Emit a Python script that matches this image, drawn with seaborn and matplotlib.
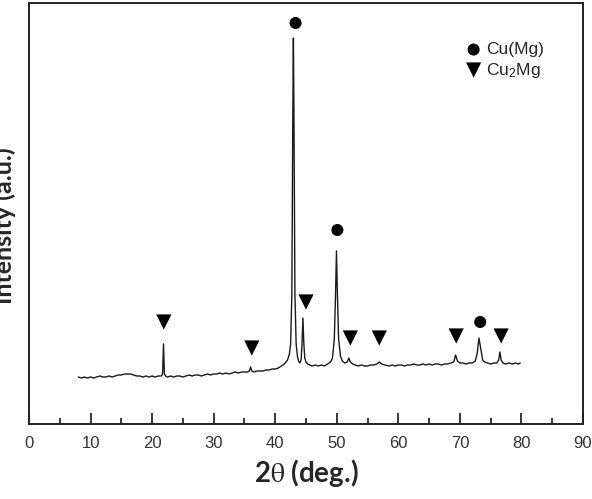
import numpy as np
import pandas as pd
import matplotlib
matplotlib.use("Agg")
import matplotlib.pyplot as plt
import seaborn as sns

sns.set_style("white")
plt.rcParams['font.family'] = ['Liberation Sans', 'DejaVu Sans']
plt.rcParams['mathtext.fontset'] = 'stix'

# XRD pattern (2theta in deg, intensity in a.u.)
two_theta = [8.0, 8.5, 9.0, 9.5, 10.0, 10.5, 11.0, 11.5, 12.0, 12.5, 13.0, 13.5,
             14.0, 14.5, 15.0, 15.5, 16.0, 16.5, 17.0, 17.5, 18.0, 18.5, 19.0, 19.5,
             20.0, 20.5, 21.0, 21.5, 21.7, 21.85, 22.0, 22.2, 22.5, 23.0, 23.5, 24.0,
             24.5, 25.0, 25.5, 26.0, 26.5, 27.0, 27.5, 28.0, 28.5, 29.0, 29.5, 30.0,
             30.5, 31.0, 31.5, 32.0, 32.5, 33.0, 33.5, 34.0, 34.5, 35.0, 35.5, 35.8,
             36.0, 36.2, 36.5, 37.0, 37.5, 38.0, 38.5, 39.0, 39.5, 40.0, 40.5, 41.0,
             41.5, 42.0, 42.3, 42.5, 42.7, 42.85, 42.95, 43.05, 43.2, 43.4, 43.6, 43.8,
             44.0, 44.2, 44.35, 44.5, 44.65, 44.8, 45.0, 45.3, 45.6, 46.0, 46.5, 47.0,
             47.5, 48.0, 48.5, 49.0, 49.3, 49.6, 49.8, 49.95, 50.1, 50.3, 50.6, 50.9,
             51.3, 51.7, 51.95, 52.2, 52.6, 53.0, 53.5, 54.0, 54.5, 55.0, 55.5, 56.0,
             56.5, 56.9, 57.3, 57.8, 58.5, 59.0, 59.5, 60.0, 60.5, 61.0, 61.5, 62.0,
             62.5, 63.0, 63.5, 64.0, 64.5, 65.0, 65.5, 66.0, 66.5, 67.0, 67.5, 68.0,
             68.5, 69.0, 69.3, 69.6, 70.0, 70.5, 71.0, 71.5, 72.0, 72.5, 72.8, 73.1,
             73.4, 73.7, 74.0, 74.5, 75.0, 75.5, 76.0, 76.3, 76.5, 76.7, 77.0, 77.5,
             78.0, 78.5, 79.0, 79.5, 79.8]
intensity = [47, 46, 47, 46, 47, 46, 47, 48, 47, 47, 48, 47,
             48, 49, 49, 50, 50, 50, 49, 48, 48, 47, 48, 47,
             48, 47, 48, 48, 50, 80, 50, 48, 47, 48, 47, 48,
             48, 47, 48, 49, 48, 49, 49, 48, 49, 50, 49, 50,
             50, 51, 50, 51, 50, 51, 52, 51, 52, 52, 52, 53,
             57, 53, 52, 53, 53, 53, 54, 54, 55, 55, 56, 58,
             60, 64, 70, 80, 130, 300, 386, 300, 130, 80, 68, 63,
             61, 64, 80, 106, 80, 66, 62, 60, 59, 58, 59, 58,
             59, 58, 60, 62, 66, 85, 130, 173, 130, 85, 68, 63,
             61, 62, 66, 62, 60, 59, 58, 59, 58, 58, 59, 59,
             60, 62, 60, 59, 58, 59, 58, 59, 59, 58, 59, 59,
             60, 59, 59, 60, 59, 60, 59, 60, 60, 59, 60, 60,
             61, 62, 69, 63, 61, 61, 60, 61, 61, 63, 70, 86,
             75, 64, 62, 61, 60, 61, 61, 64, 72, 64, 61, 60,
             61, 60, 61, 60, 61]

# phase markers above the peaks
cu_mg_x = [43.3, 50.1, 73.3]
cu_mg_y = [401, 194, 102]
cu2mg_x = [21.9, 36.2, 45.0, 52.2, 56.9, 69.4, 76.7]
cu2mg_y = [102, 76, 122, 86, 86, 88, 88]

phase_cu_mg = "Cu(Mg)"
phase_cu2mg = r"Cu$\mathregular{_2}$Mg"

marks = pd.DataFrame({
    "x": cu_mg_x + cu2mg_x,
    "y": cu_mg_y + cu2mg_y,
    "phase": [phase_cu_mg] * len(cu_mg_x) + [phase_cu2mg] * len(cu2mg_x),
})

fig = plt.figure(figsize=(5.92, 4.99), dpi=100)
ax = fig.add_axes([29 / 592, 75 / 499, 554 / 592, 421 / 499])

sns.lineplot(x=two_theta, y=intensity, ax=ax, color="#1a1a1a", lw=1.0)

for ph, mk, sz in [(phase_cu_mg, "o", 75), (phase_cu2mg, "v", 120)]:
    sub = marks[marks["phase"] == ph]
    sns.scatterplot(data=sub, x="x", y="y", marker=mk, s=sz, color="black",
                    edgecolor="none", ax=ax, label=ph, zorder=3)

ax.set_xlim(0, 90)
ax.set_ylim(0, 421)
ax.set_xticks(np.arange(0, 91, 10))
ax.set_xticks(np.arange(5, 90, 10), minor=True)
ax.set_yticks([])
ax.tick_params(axis="x", which="major", direction="in", length=8, width=1.3,
               labelsize=12, labelcolor="#333333", pad=9, bottom=True)
ax.tick_params(axis="x", which="minor", direction="in", length=4, width=1.3,
               bottom=True)
for s in ax.spines.values():
    s.set_color("#222222")
    s.set_linewidth(1.4)

ax.set_xlabel(r"2$\mathrm{\theta}$ (deg.)", fontsize=20, fontweight="bold",
              family=["Lato", "DejaVu Sans"], labelpad=4)
ax.set_ylabel("Intensity (a.u.)", fontsize=18, fontweight="bold",
              family=["Lato", "DejaVu Sans"])
ax.yaxis.set_label_coords(-0.024, 0.47)

leg = ax.legend(loc="upper left", bbox_to_anchor=((458 - 29) / 554, 1 - 32 / 421),
                frameon=False, fontsize=12.5, handletextpad=0.2,
                labelspacing=0.2, borderaxespad=0, handlelength=1.0)

fig.savefig("out.png", dpi=100)
